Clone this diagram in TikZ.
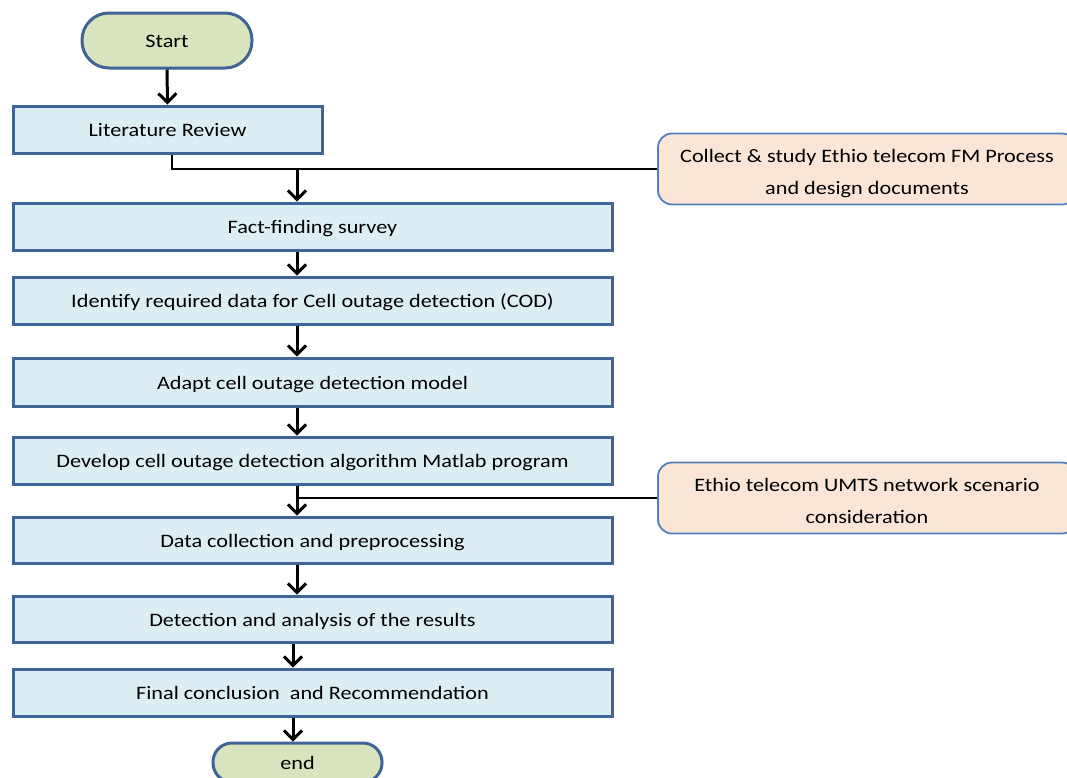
\documentclass[tikz,border=0pt]{standalone}
\usepackage{fontspec}
\setmainfont{Carlito}[FakeStretch=1.17]
\usetikzlibrary{arrows.meta}
\definecolor{boxfill}{HTML}{DBEEF4}
\definecolor{boxline}{HTML}{3F6596}
\definecolor{termfill}{HTML}{D7E4BD}
\definecolor{notefill}{HTML}{FBE5D6}
\definecolor{noteline}{HTML}{4F81BD}
\tikzset{
  stepbox/.style={draw=boxline, line width=3pt, fill=boxfill, minimum width=599pt, minimum height=47pt, inner sep=0pt, text height=18.5pt, text depth=4pt, font=\fontsize{19}{22}\selectfont},
  termbox/.style={draw=boxline, line width=3pt, fill=termfill, inner sep=0pt, text height=17pt, text depth=4pt, font=\fontsize{19}{22}\selectfont},
  notebox/.style={draw=noteline, line width=1.8pt, fill=notefill, rounded corners=14pt, minimum width=418pt, minimum height=71pt, inner sep=0pt, align=center, text height=50pt, text depth=0pt, font=\fontsize{19}{32}\selectfont},
  flow/.style={line width=3pt, -{Straight Barb[length=9pt,width=18pt,line width=3pt]}},
  link/.style={line width=2.6pt},
}
\begin{document}
\begin{tikzpicture}[x=1pt,y=-1pt]
\useasboundingbox (0,0) rectangle (1067,777);
\node[termbox, minimum width=170pt, minimum height=55pt, rounded corners=27pt] (start) at (167,40.5) {Start};
\node[stepbox, minimum width=309pt] (lit) at (167.5,129.5) {Literature Review};
\node[stepbox] (fact) at (312.5,226.5) {Fact-finding survey};
\node[stepbox] (ident) at (312.5,300.5) {Identify required data for Cell outage detection (COD)};
\node[stepbox, minimum height=48pt] (adapt) at (312.5,382) {Adapt cell outage detection model};
\node[stepbox] (dev) at (312.5,460.5) {Develop cell outage detection algorithm Matlab program};
\node[stepbox, minimum height=46pt] (data) at (312.5,540) {Data collection and preprocessing};
\node[stepbox, minimum height=46pt] (det) at (312.5,619) {Detection and analysis of the results};
\node[stepbox] (final) at (312.5,692.5) {Final conclusion\ \ and Recommendation};
\node[termbox, minimum width=169pt, minimum height=39pt, rounded corners=19pt] (end) at (297.5,762.5) {end};
\node[notebox] (c1) at (867,169) {Collect \& study Ethio telecom FM Process\\and design documents};
\node[notebox] (c2) at (867,498) {Ethio telecom UMTS network scenario\\consideration};
\coordinate (j1) at (297,170);
\coordinate (j2) at (297,498);
\draw[flow] (start.south) -- (lit.north);
\draw[link] (lit.south -| 172,0) |- (c1.west);
\draw[flow] (j1) -- (j1 |- fact.north);
\draw[flow] (fact.south -| j1) -- (ident.north -| j1);
\draw[flow] (ident.south -| j1) -- (adapt.north -| j1);
\draw[flow] (adapt.south -| j1) -- (dev.north -| j1);
\draw[flow] (dev.south -| j1) -- (data.north -| j1);
\draw[flow] (data.south -| j1) -- (det.north -| j1);
\draw[link] (c2.west) -- (j2);
\draw[flow] (det.south -| 293,0) -- (final.north -| 293,0);
\draw[flow] (final.south -| 293,0) -- (end.north -| 293,0);
\end{tikzpicture}
\end{document}
